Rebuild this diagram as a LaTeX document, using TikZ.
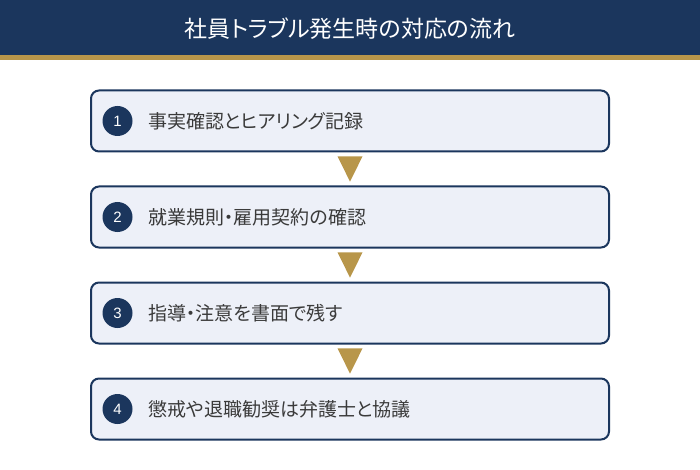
\documentclass[tikz,border=0pt]{standalone}
\usepackage{fontspec}
\setmainfont[RawFeature=+palt]{Noto Sans CJK JP}
\newfontfamily\numfont{Liberation Sans}
\definecolor{navy}{HTML}{1B365D}
\definecolor{gold}{HTML}{B8964A}
\definecolor{boxfill}{HTML}{EDF0F8}
\definecolor{txt}{HTML}{3A3A3A}
\begin{document}
\begin{tikzpicture}[x=1pt,y=-1pt,
  stepbox/.style={draw=navy,line width=2pt,fill=boxfill,rounded corners=8pt,minimum width=518pt,minimum height=61pt,inner sep=0pt},
  numcirc/.style={circle,fill=navy,minimum size=30pt,inner sep=0pt,text=white,font=\numfont\fontsize{15pt}{15pt}\selectfont},
  steptext/.style={anchor=west,text=txt,inner sep=0pt,font=\fontsize{19pt}{22pt}\selectfont},
  tri/.style={fill=gold}]
\useasboundingbox (0,0) rectangle (700,470);
\fill[navy] (0,0) rectangle (700,55.5);
\fill[gold] (0,55.5) rectangle (700,60.5);
\node[text=white,font=\fontsize{23pt}{26pt}\selectfont] (title) at (350,29) {社員トラブル発生時の対応の流れ};
\foreach \i/\y/\t in {1/121/事実確認とヒアリング記録,2/217/就業規則・雇用契約の確認,3/313/指導・注意を書面で残す,4/409/懲戒や退職勧奨は弁護士と協議}{
  \node[stepbox] (b\i) at (350,\y) {};
  \node[numcirc] (n\i) at (117.5,\y) {\i};
  \node[steptext] (t\i) at (148,\y) {\t};
}
\foreach \a/\b in {1/2,2/3,3/4}{
  \path (b\a.south) -- (b\b.north) coordinate[pos=0.12] (top\a) coordinate[pos=0.88] (bot\a);
  \fill[tri] ([xshift=-12.5pt]top\a) -- ([xshift=12.5pt]top\a) -- (bot\a) -- cycle;
}
\end{tikzpicture}
\end{document}
